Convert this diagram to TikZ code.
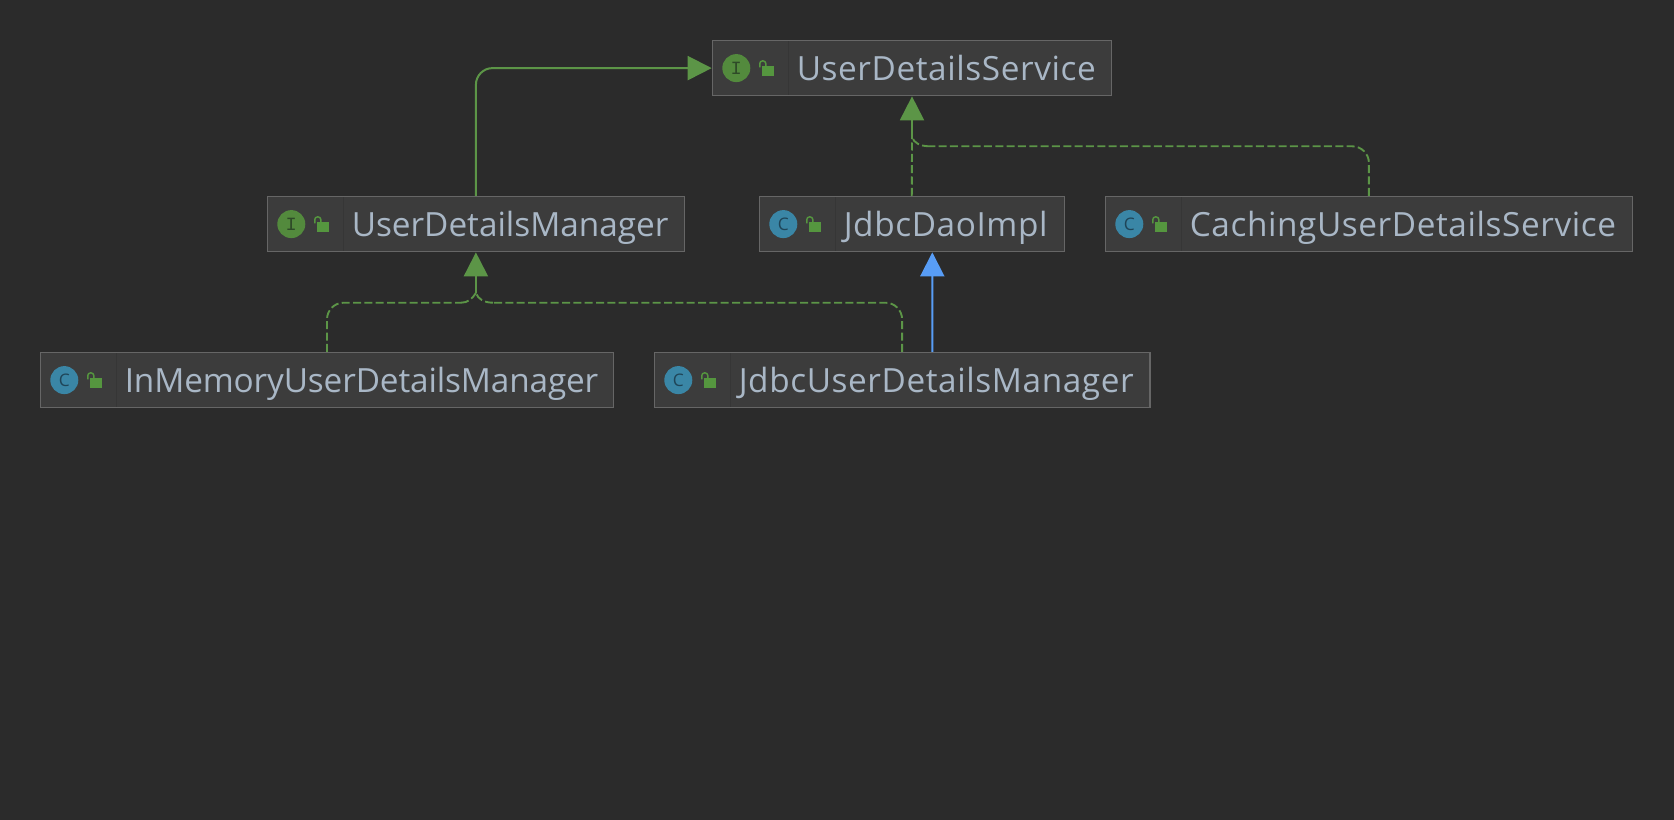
\documentclass[tikz,border=0pt]{standalone}
\usepackage{fontspec}
\setmainfont{Open Sans}[LetterSpace=1.8]
\newfontfamily\glyphfont{Liberation Mono}
\newfontfamily\cglyphfont{Open Sans}
\usetikzlibrary{arrows.meta}
\definecolor{bgc}{HTML}{2B2B2B}
\definecolor{boxc}{HTML}{3C3C3C}
\definecolor{edgec}{HTML}{666666}
\definecolor{divc}{HTML}{363636}
\definecolor{labelc}{HTML}{A9B7C6}
\definecolor{greenc}{HTML}{5C9547}
\definecolor{bluec}{HTML}{589DF6}
\definecolor{igreen}{HTML}{538A3D}
\definecolor{iglyph}{HTML}{2E4A28}
\definecolor{cblue}{HTML}{3A86A6}
\definecolor{cglyph}{HTML}{1F4558}
\definecolor{lockc}{HTML}{55963F}
\tikzset{
  x=0.75pt,y=-0.75pt,
  umlbox/.style={draw=edgec,fill=boxc,line width=0.9pt,inner sep=0pt,minimum height=41.5pt},
  umltext/.style={anchor=base west,inner sep=0pt,text=labelc,font=\fontsize{25}{28}\selectfont},
  iconI/.style={circle,fill=igreen,minimum size=21pt,inner sep=0pt,text=iglyph,font=\glyphfont\fontsize{14}{14}\selectfont},
  iconC/.style={circle,fill=cblue,minimum size=21pt,inner sep=0pt,text=cglyph,font=\cglyphfont\fontsize{13}{13}\selectfont},
  ext/.style={draw=greenc,line width=1.5pt},
  extblue/.style={draw=bluec,line width=1.5pt},
  impl/.style={draw=greenc,line width=1.4pt,dash pattern=on 6pt off 2.5pt},
  tipg/.style={-{Triangle[length=18pt,width=18pt,fill=greenc]}},
  tipb/.style={-{Triangle[length=18pt,width=18pt,fill=bluec]}},
  corner/.style={rounded corners=12.5pt},
}
% name, left, top, width, kind, text
\newcommand{\umlclass}[6]{%
  \begin{scope}[shift={(#2,#3)}]
    \node[umlbox,minimum width=#4*0.75pt] (#1) at (#4/2,27.7) {};
    \draw[divc,line width=0.8pt] (76,1) -- (76,54.5);
    \node[icon#5] (#1-icon) at (24,27.7) {#5};
    \fill[lockc] (49.7,25.7) rectangle (61.7,35.7);
    \draw[lockc,line width=1.1pt,rounded corners=2pt] (47.5,27) -- (47.5,20.5) -- (53.5,20.5) -- (53.5,25.7);
    \node[umltext] (#1-text) at (84.2,39.7) {#6};
  \end{scope}%
}
\begin{document}
\begin{tikzpicture}
\fill[bgc] (0,0) rectangle (1674,820);
\useasboundingbox (0,0) rectangle (1674,820);

\umlclass{uds}{712.3}{40.4}{399.4}{I}{UserDetailsService}
\umlclass{udm}{267.3}{196.4}{417.2}{I}{\addfontfeature{LetterSpace=0}UserDetailsManager}
\umlclass{jd}{759.3}{196.4}{305}{C}{JdbcDaoImpl}
\umlclass{cuds}{1105.3}{196.4}{527.2}{C}{CachingUserDetailsService}
\umlclass{imu}{40.3}{352.4}{573.4}{C}{\addfontfeature{LetterSpace=-0.4}InMemoryUserDetailsManager}
\umlclass{jum}{654.3}{352.4}{495.6}{C}{JdbcUserDetailsManager}

\coordinate (mtop) at (uds.south |- 0,137);
\coordinate (htop) at (930,146.3);
\coordinate (mlow) at (udm.south |- 0,293);
\coordinate (hlowl) at (461,302.7);
\coordinate (hlowr) at (493,302.7);

% extends
\draw[ext,tipg,corner] (udm.north) |- (uds.west);
\draw[extblue,tipb] ([xshift=22.65pt]jum.north) -- ([xshift=15.375pt]jd.south);

% implements towards UserDetailsService
\draw[impl] (jd.north) -- (mtop);
\draw[impl,corner] (cuds.north) |- (htop);
\draw[impl] (htop) .. controls (920,146.3) and (914,143) .. (mtop);
\draw[ext,tipg] (mtop) -- (uds.south);

% implements towards UserDetailsManager
\draw[impl,corner] (imu.north) |- (hlowl);
\draw[impl] (hlowl) .. controls (468,302.7) and (472,299) .. (mlow);
\draw[impl,corner] (jum.north) |- (hlowr);
\draw[impl] (hlowr) .. controls (484,302.7) and (478,299) .. (mlow);
\draw[ext,tipg] (mlow) -- (udm.south);
\end{tikzpicture}
\end{document}
